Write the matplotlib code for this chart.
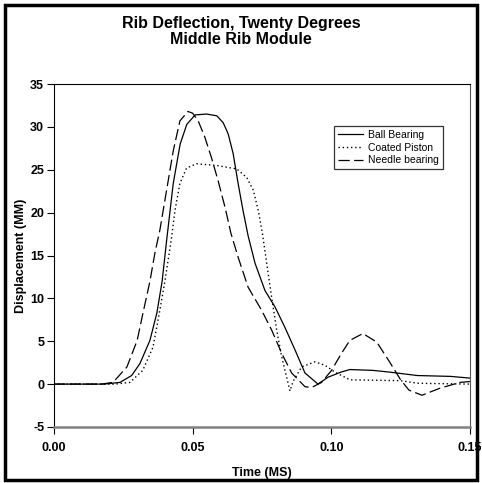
import numpy as np
import matplotlib
matplotlib.use('Agg')
import matplotlib.pyplot as plt
from matplotlib.patches import Rectangle

plt.rcParams['font.family'] = ['Liberation Sans', 'DejaVu Sans']
plt.rcParams['axes.unicode_minus'] = False

# values (time in MS, displacement in MM)
ball_t = [0.0, 0.018, 0.0238, 0.028, 0.031, 0.0346, 0.0371, 0.039, 0.0406, 0.043, 0.0455,
          0.0479, 0.0509, 0.055, 0.0587, 0.061, 0.0628, 0.0646, 0.0664, 0.0682, 0.07,
          0.0725, 0.0761, 0.0797, 0.0833, 0.0869, 0.0905, 0.0952, 0.0988, 0.1035, 0.1067,
          0.115, 0.121, 0.131, 0.143, 0.15]
ball_v = [0.0, 0.0, 0.2, 1.0, 2.4, 5.1, 8.3, 12.0, 16.7, 23.4, 28.0,
          30.3, 31.4, 31.5, 31.3, 30.5, 29.2, 26.9, 23.4, 20.2, 17.3,
          14.1, 10.9, 9.0, 6.6, 4.0, 1.3, 0.0, 0.8, 1.4, 1.7,
          1.6, 1.4, 1.0, 0.9, 0.7]

piston_t = [0.0, 0.022, 0.0274, 0.032, 0.0357, 0.038, 0.04, 0.0424, 0.0436, 0.0454, 0.0478,
            0.0514, 0.0587, 0.0659, 0.0695, 0.0719, 0.0737, 0.0752, 0.0767, 0.0785, 0.0803,
            0.0821, 0.0839, 0.0851, 0.0862, 0.0893, 0.0941, 0.0977, 0.1013, 0.1067, 0.125,
            0.131, 0.15]
piston_v = [0.0, 0.0, 0.2, 1.6, 4.3, 8.3, 12.0, 17.1, 20.2, 23.4, 25.2,
            25.7, 25.5, 25.1, 24.1, 22.6, 20.2, 17.5, 14.1, 10.1, 6.3,
            3.2, 0.8, -0.8, 0.3, 2.0, 2.6, 2.2, 1.4, 0.5, 0.4,
            0.1, 0.0]

needle_t = [0.0, 0.017, 0.0213, 0.0263, 0.03, 0.0321, 0.0346, 0.0364, 0.0382, 0.0406, 0.043,
            0.0454, 0.0483, 0.050, 0.052, 0.0544, 0.0568, 0.0592, 0.0617, 0.0638, 0.0664,
            0.07, 0.0749, 0.0785, 0.0821, 0.0857, 0.0905, 0.0929, 0.0965, 0.1001, 0.1035,
            0.1067, 0.1114, 0.1164, 0.121, 0.125, 0.128, 0.1327, 0.139, 0.1464, 0.15]
needle_v = [0.0, 0.0, 0.2, 2.0, 5.1, 8.3, 12.0, 15.3, 18.0, 22.6, 27.2,
            30.7, 31.8, 31.6, 30.7, 28.8, 26.4, 23.7, 20.6, 17.6, 14.8,
            11.3, 8.6, 6.3, 3.6, 1.3, -0.3, -0.4, 0.2, 1.6, 3.5,
            5.1, 5.9, 4.9, 2.6, 0.5, -0.7, -1.3, -0.5, 0.2, 0.3]

x_ticks = [0.00, 0.05, 0.10, 0.15]
x_ticklabels = ['0.00', '0.05', '0.10', '0.15']
y_ticks = [-5, 0, 5, 10, 15, 20, 25, 30, 35]

fig = plt.figure(figsize=(4.82, 4.83), dpi=100)
ax = fig.add_axes([0.112, 0.116, 0.863, 0.71])

ax.plot(ball_t, ball_v, color='black', lw=0.9, ls='-', label='Ball Bearing')
ax.plot(piston_t, piston_v, color='black', lw=1.0, ls=(0, (1, 2)), label='Coated Piston')
ax.plot(needle_t, needle_v, color='black', lw=0.9, ls=(0, (9, 3.5)), label='Needle bearing')

ax.set_xlim(0, 0.15)
ax.set_ylim(-5, 35)
ax.set_xticks(x_ticks)
ax.set_xticklabels(x_ticklabels)
ax.set_yticks(y_ticks)
for lab in ax.get_xticklabels() + ax.get_yticklabels():
    lab.set_fontweight('bold')
    lab.set_fontsize(9)
ax.tick_params(axis='both', direction='out', length=5, width=0.8)
ax.tick_params(axis='y', pad=2)
ax.tick_params(axis='x', pad=6)

ax.spines['bottom'].set_color('#808080')
ax.spines['bottom'].set_linewidth(1.8)
ax.spines['right'].set_color('#555555')
ax.spines['left'].set_linewidth(0.8)
ax.spines['top'].set_linewidth(0.8)

ax.set_xlabel('Time (MS)', fontsize=9, fontweight='bold', labelpad=9)
ax.set_ylabel('Displacement (MM)', fontsize=9, fontweight='bold', labelpad=2)

fig.text(0.5, 0.967, 'Rib Deflection, Twenty Degrees\nMiddle Rib Module', ha='center', va='top',
         fontsize=11.5, fontweight='bold', linespacing=1.05)

leg = ax.legend(loc='upper left', bbox_to_anchor=(0.673, 0.878), fontsize=7.5, frameon=True,
                fancybox=False, edgecolor='black', handlelength=2.4, borderpad=0.4,
                labelspacing=0.25, handletextpad=0.5, borderaxespad=0)
leg.get_frame().set_linewidth(0.9)

fig.patches.append(Rectangle((0.011, 0.006), 0.978, 0.983, transform=fig.transFigure,
                             fill=False, edgecolor='black', lw=2.5))

fig.savefig('out.png', dpi=100)
